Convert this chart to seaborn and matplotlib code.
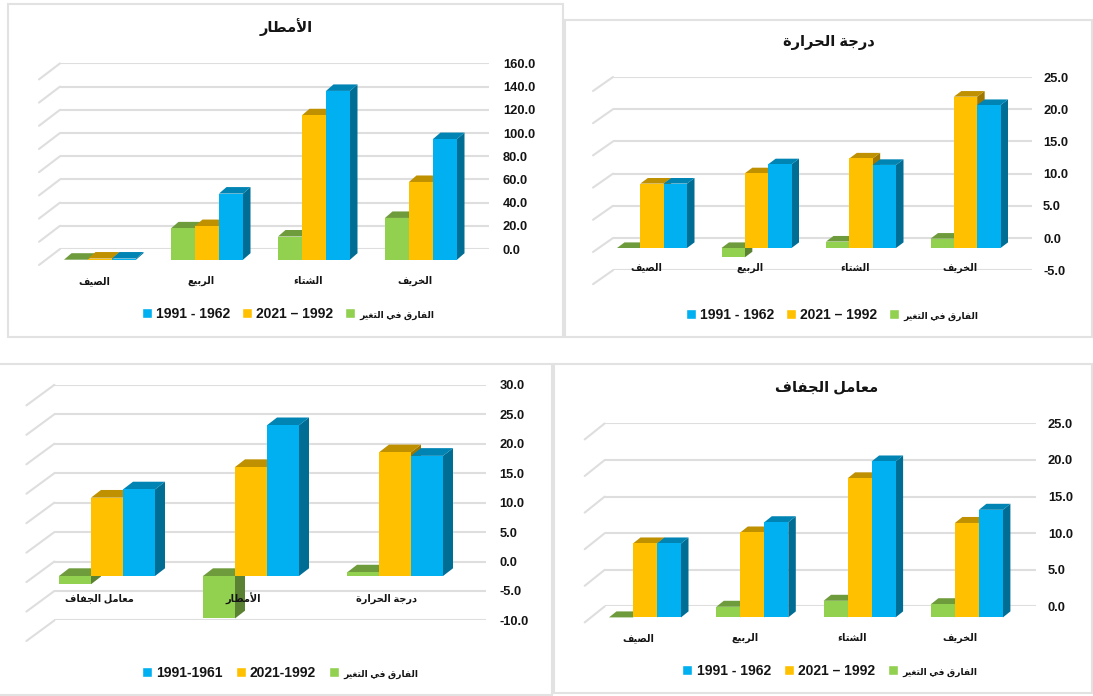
import numpy as np
import pandas as pd
import seaborn as sns
import matplotlib
matplotlib.use('Agg')
import matplotlib.pyplot as plt
from matplotlib.colors import to_rgb
from matplotlib.lines import Line2D
from matplotlib.patches import Patch, Polygon, Rectangle
from matplotlib.transforms import IdentityTransform

W, H = 1093, 696

# values
seasons = ['الصيف', 'الربيع', 'الشتاء', 'الخريف']
indices = ['معامل الجفاف', 'الأمطار', 'درجة الحرارة']

rain_diff = [0.0, 27.0, 20.0, 36.0]
rain_late = [1.0, 29.0, 124.5, 67.0]
rain_early = [1.0, 57.0, 145.5, 104.0]

temp_diff = [0.0, -1.45, 1.0, 1.45]
temp_late = [10.0, 11.6, 13.9, 23.5]
temp_early = [10.0, 13.0, 12.9, 22.2]

all_diff = [-1.4, -7.2, 0.6]
all_late = [13.3, 18.5, 21.0]
all_early = [14.7, 25.6, 20.4]

dry_diff = [0.0, 1.45, 2.27, 1.8]
dry_late = [10.1, 11.6, 19.0, 12.9]
dry_early = [10.1, 13.0, 21.3, 14.7]

rain_ticks = [0, 20, 40, 60, 80, 100, 120, 140, 160]
temp_ticks = [-5, 0, 5, 10, 15, 20, 25]
all_ticks = [-10, -5, 0, 5, 10, 15, 20, 25, 30]
dry_ticks = [0, 5, 10, 15, 20, 25]

diff_name = 'الفارق في التغير'
late_name = '2021 – 1992'
early_name = '1991 - 1962'
late_name_all = '2021-1992'
early_name_all = '1991-1961'

colors = ['#92D050', '#FFC000', '#00B0F0']
grid_color = '#DEDEDE'
text_color = '#141414'

# matplotlib has no arabic shaping, so pick the joined glyph forms and flip the order
# letter: first presentation form code, forms run isolated, final, initial, medial
forms = {
    'ا': (0xFE8D, 2), 'أ': (0xFE83, 2), 'د': (0xFEA9, 2), 'ر': (0xFEAD, 2), 'ة': (0xFE93, 2),
    '\uFEF7': (0xFEF7, 2), 'ء': (0xFE80, 1),
    'ب': (0xFE8F, 4), 'ت': (0xFE95, 4), 'ج': (0xFE9D, 4), 'ح': (0xFEA1, 4), 'خ': (0xFEA5, 4),
    'ش': (0xFEB5, 4), 'ص': (0xFEB9, 4), 'ط': (0xFEC1, 4), 'ع': (0xFEC9, 4), 'غ': (0xFECD, 4),
    'ف': (0xFED1, 4), 'ق': (0xFED5, 4), 'ل': (0xFEDD, 4), 'م': (0xFEE1, 4), 'ي': (0xFEF1, 4),
}


def shape(text):
    text = text.replace('لأ', '\uFEF7')
    out = []
    for i, ch in enumerate(text):
        if ch not in forms:
            out.append(ch)
            continue
        start, count = forms[ch]
        prev = text[i - 1] if i > 0 else ' '
        nxt = text[i + 1] if i < len(text) - 1 else ' '
        join_prev = count > 1 and prev in forms and forms[prev][1] == 4
        join_next = count == 4 and nxt in forms and forms[nxt][1] > 1
        if join_prev and join_next:
            k = 3
        elif join_next:
            k = 2
        elif join_prev:
            k = 1
        else:
            k = 0
        out.append(chr(start + k))
    return ''.join(out)[::-1]


sns.set_theme(style='white')
plt.rcParams['font.family'] = ['Liberation Sans', 'DejaVu Sans']
plt.rcParams['font.weight'] = 'bold'
plt.rcParams['text.color'] = text_color

fig = plt.figure(figsize=(W / 100, H / 100), dpi=100, facecolor='white')


def rect_px(left, top, right, bottom):
    return [left / W, 1 - bottom / H, (right - left) / W, (bottom - top) / H]


def frame(left, top, right, bottom):
    fig.add_artist(Rectangle((left / W, 1 - bottom / H), (right - left) / W, (bottom - top) / H,
                             fill=False, edgecolor='#E2E2E2', linewidth=1.5, transform=fig.transFigure))


def shade(color, k):
    r, g, b = to_rgb(color)
    return (r * k, g * k, b * k)


def panel(cats, diff, late, early, ticks, names, wall, base, unit, wall_zero, wall_depth, bar_depth,
          groups, tick_pad, label_pad, label_shift, legend_at, legend_gap):
    left, right = wall
    vmin, vmax = ticks[0], ticks[-1]

    # back wall with the grid and the value labels
    ax_w = fig.add_axes(rect_px(left, wall_zero - vmax * unit, right, wall_zero - vmin * unit))
    ax_w.set_xlim(0, 1)
    ax_w.set_ylim(vmin, vmax)
    ax_w.set_xticks([])
    ax_w.set_yticks(ticks)
    ax_w.set_yticklabels([f'{t:.1f}' for t in ticks], fontsize=9.3, color=text_color)
    ax_w.yaxis.tick_right()
    ax_w.tick_params(axis='y', length=0, pad=tick_pad)
    ax_w.grid(axis='y', color=grid_color, linewidth=1.5)
    ax_w.patch.set_alpha(0)
    sns.despine(ax=ax_w, left=True, bottom=True, right=True, top=True)
    for t in ticks:
        x0, y0 = ax_w.transData.transform((0, t))
        ax_w.add_line(Line2D([x0, x0 + wall_depth[0]], [y0, y0 - wall_depth[1]], color=grid_color,
                             linewidth=1.5, transform=IdentityTransform(), clip_on=False))

    # bars on the front plane
    c0, pitch, gw = groups
    n = len(cats)
    ax = fig.add_axes(rect_px(c0 - pitch / 2, base - vmax * unit, c0 + (n - 0.5) * pitch, base - vmin * unit))
    ax.patch.set_alpha(0)
    labels = [shape(c) for c in cats]
    hue_names = ['diff', 'late', 'early']
    df = pd.DataFrame({
        'cat': labels * 3,
        'series': np.repeat(hue_names, n),
        'value': list(diff) + list(late) + list(early),
    })
    sns.barplot(data=df, x='cat', y='value', hue='series', order=labels, hue_order=hue_names,
                palette=colors, width=gw / pitch, saturation=1, legend=False, linewidth=0, ax=ax)
    ax.set_xlim(-0.5, n - 0.5)
    ax.set_ylim(vmin, vmax)
    ax.set_xlabel('')
    ax.set_ylabel('')
    ax.set_yticks([])
    ax.set_xticks(np.arange(n) + label_shift / pitch, labels)
    ax.set_axisbelow(False)
    ax.spines['bottom'].set_position(('data', 0))
    ax.spines['bottom'].set_color('none')
    for s in ['left', 'right', 'top']:
        ax.spines[s].set_visible(False)
    ax.tick_params(axis='x', length=0, pad=label_pad, labelsize=7, colors=text_color)

    # fake the 3d look with a top and a side face on every bar, left to right
    ddx, ddy = bar_depth
    bars = sorted(ax.patches, key=lambda p: p.get_x())
    for i, p in enumerate(bars):
        x = p.get_x()
        y0, y1 = sorted([p.get_y(), p.get_y() + p.get_height()])
        (xa, ya), (xb, yb) = ax.transData.transform([(x, y0), (x + p.get_width(), y1)])
        col = p.get_facecolor()
        side = [(xb, ya), (xb + ddx, ya + ddy), (xb + ddx, yb + ddy), (xb, yb)]
        top = [(xa, yb), (xa + ddx, yb + ddy), (xb + ddx, yb + ddy), (xb, yb)]
        ax.add_patch(Polygon(side, closed=True, facecolor=shade(col, 0.62), edgecolor='none',
                             transform=IdentityTransform(), clip_on=False, zorder=1 + i * 0.01))
        ax.add_patch(Polygon(top, closed=True, facecolor=shade(col, 0.75), edgecolor='none',
                             transform=IdentityTransform(), clip_on=False, zorder=1.002 + i * 0.01))
        p.set_zorder(1.004 + i * 0.01)
        p.set_clip_on(False)

    handles = [Patch(facecolor=colors[2]), Patch(facecolor=colors[1]), Patch(facecolor=colors[0])]
    leg = ax.legend(handles, [names[2], names[1], shape(names[0])], ncol=3, frameon=False, loc='center',
                    bbox_to_anchor=(legend_at[0] / W, 1 - legend_at[1] / H), bbox_transform=fig.transFigure,
                    prop={'size': 10, 'weight': 'bold'}, handlelength=0.72, handleheight=0.72,
                    handletextpad=0.3, columnspacing=legend_gap, borderpad=0, borderaxespad=0)
    leg.get_texts()[2].set_fontsize(6.6)
    for t in leg.get_texts():
        t.set_color(text_color)


names = [diff_name, late_name, early_name]
names_all = [diff_name, late_name_all, early_name_all]

frame(8, 4, 563, 337)
frame(565, 20, 1092, 337)
frame(-5, 364, 552, 695)
frame(553.5, 364, 1092, 693)

panel(seasons, rain_diff, rain_late, rain_early, rain_ticks, names,
      wall=(60, 489), base=259.7, unit=1.16, wall_zero=249, wall_depth=(-21, 16), bar_depth=(7.5, 6.5),
      groups=(100, 107, 72), tick_pad=10, label_pad=11.5, label_shift=-6,
      legend_at=(288, 314), legend_gap=0.85)
panel(seasons, temp_diff, temp_late, temp_early, temp_ticks, names,
      wall=(613, 1032), base=248, unit=6.44, wall_zero=238, wall_depth=(-20, 14), bar_depth=(7.5, 5.6),
      groups=(652, 104.5, 70), tick_pad=8, label_pad=10.5, label_shift=-6,
      legend_at=(832, 315), legend_gap=0.85)
panel(indices, all_diff, all_late, all_early, all_ticks, names_all,
      wall=(54.4, 486), base=576, unit=5.89, wall_zero=561.5, wall_depth=(-28, 20.6), bar_depth=(10, 7.7),
      groups=(107, 144, 96), tick_pad=9.5, label_pad=12.5, label_shift=-8,
      legend_at=(280, 673), legend_gap=0.95)
panel(seasons, dry_diff, dry_late, dry_early, dry_ticks, names,
      wall=(604.7, 1036), base=617.4, unit=7.32, wall_zero=606.4, wall_depth=(-20, 16), bar_depth=(7.5, 6),
      groups=(645, 107.3, 72), tick_pad=8.5, label_pad=11, label_shift=-7,
      legend_at=(830, 671), legend_gap=0.95)

fig.text(286 / W, 1 - 27 / H, shape('الأمطار'), ha='center', va='center', fontsize=10.5, color=text_color)
fig.text(829 / W, 1 - 42 / H, shape('درجة الحرارة'), ha='center', va='center', fontsize=10.5, color=text_color)
fig.text(827 / W, 1 - 387 / H, shape('معامل الجفاف'), ha='center', va='center', fontsize=10.5, color=text_color)

fig.savefig('out.png', dpi=100)
